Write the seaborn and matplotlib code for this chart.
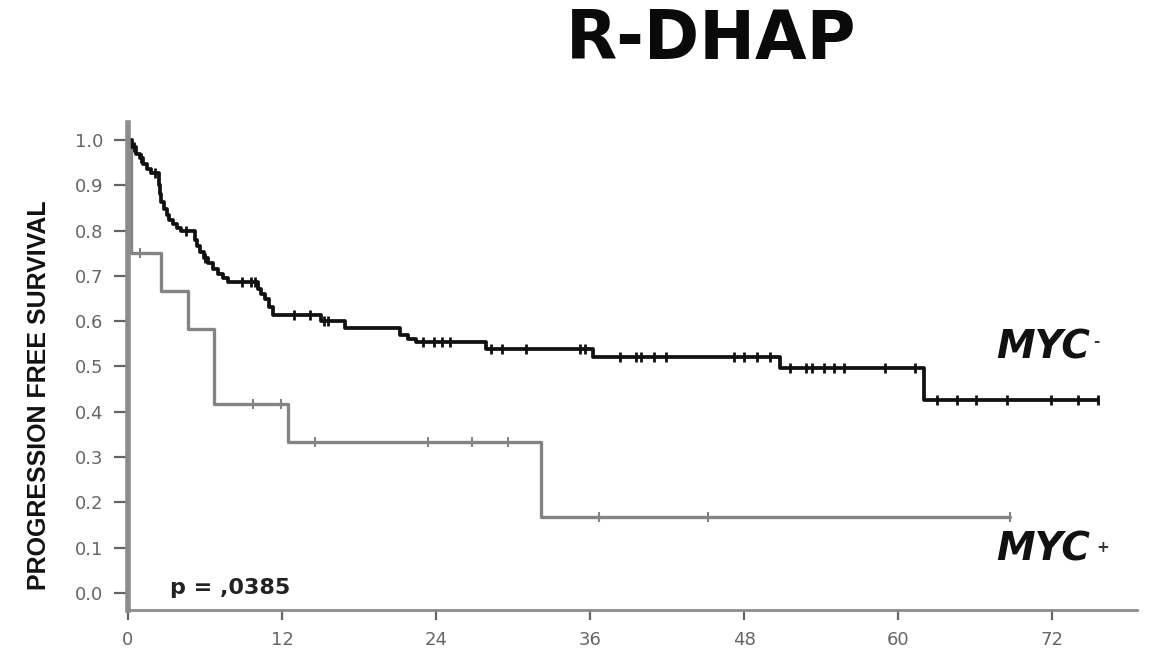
import numpy as np
import pandas as pd
import seaborn as sns
import matplotlib
matplotlib.use("Agg")
import matplotlib.pyplot as plt

# Kaplan-Meier step data (months, survival after each event)
myc_neg_times = [0, 0.3, 0.6, 0.9, 1.2, 1.5, 1.8, 2.4, 2.5, 2.6, 2.8, 3.0, 3.2, 3.5, 3.8,
                 4.1, 5.2, 5.4, 5.6, 5.9, 6.2, 6.6, 7.0, 7.4, 7.8, 10.1, 10.4, 10.7,
                 11.0, 11.3, 15.0, 16.9, 21.2, 21.8, 22.4, 27.9, 36.2, 50.8, 62.0]
myc_neg_surv = [1.0, 0.985, 0.97, 0.96, 0.948, 0.937, 0.927, 0.90, 0.88, 0.862, 0.848,
                0.835, 0.824, 0.815, 0.806, 0.798, 0.78, 0.765, 0.752, 0.74, 0.728,
                0.716, 0.705, 0.695, 0.686, 0.672, 0.66, 0.648, 0.632, 0.614, 0.600,
                0.584, 0.57, 0.56, 0.553, 0.538, 0.521, 0.497, 0.426]
myc_neg_end = 75.6
myc_neg_censored = [0.5, 1.0, 2.1, 4.5, 6.0, 8.9, 9.6, 9.9, 12.9, 14.2, 15.3, 15.6,
                    23.0, 23.8, 24.5, 25.1, 28.3, 29.1, 31.0, 35.2, 35.6,
                    38.3, 39.6, 40.0, 41.0, 41.9, 47.2, 48.0, 49.0, 50.0,
                    51.6, 52.8, 53.3, 54.2, 55.0, 55.8, 59.0, 61.3,
                    63.0, 64.6, 66.1, 68.5, 71.9, 74.0, 75.6]

myc_pos_times = [0, 0.25, 2.6, 4.7, 6.7, 12.5, 32.2]
myc_pos_surv = [1.0, 0.75, 0.667, 0.583, 0.417, 0.333, 0.167]
myc_pos_end = 68.7
myc_pos_censored = [0.9, 9.7, 11.9, 14.6, 23.4, 26.8, 29.6, 36.7, 45.2, 68.7]

x_ticks = [0, 12, 24, 36, 48, 60, 72]
y_ticks = [0.0, 0.1, 0.2, 0.3, 0.4, 0.5, 0.6, 0.7, 0.8, 0.9, 1.0]
title = "R-DHAP"
y_label = "PROGRESSION FREE SURVIVAL"
p_text = "p = ,0385"

sns.set_theme(style="ticks")
plt.rcParams["font.family"] = ["DejaVu Sans"]

fig = plt.figure(figsize=(11.51, 6.49), dpi=100)
ax = fig.add_axes([0.1112, 0.0601, 0.8766, 0.7504])


def step_frame(times, surv, end):
    x = list(times) + [end]
    y = list(surv) + [surv[-1]]
    return pd.DataFrame({"month": x, "survival": y})


def censor_frame(times, surv, cens):
    t = np.asarray(times)
    s = np.asarray(surv)
    idx = np.searchsorted(t, np.asarray(cens), side="right") - 1
    return pd.DataFrame({"month": cens, "survival": s[idx]})


neg_color = "#111111"
pos_color = "#848484"

pos_df = step_frame(myc_pos_times, myc_pos_surv, myc_pos_end)
neg_df = step_frame(myc_neg_times, myc_neg_surv, myc_neg_end)

sns.lineplot(data=pos_df, x="month", y="survival", ax=ax, color=pos_color,
             linewidth=2.4, drawstyle="steps-post", estimator=None, sort=False)
sns.scatterplot(data=censor_frame(myc_pos_times, myc_pos_surv, myc_pos_censored),
                x="month", y="survival", ax=ax, marker="|", s=60,
                linewidth=1.5, color=pos_color, zorder=3)

sns.lineplot(data=neg_df, x="month", y="survival", ax=ax, color=neg_color,
             linewidth=2.7, drawstyle="steps-post", estimator=None, sort=False)
sns.scatterplot(data=censor_frame(myc_neg_times, myc_neg_surv, myc_neg_censored),
                x="month", y="survival", ax=ax, marker="|", s=60,
                linewidth=2.0, color=neg_color, zorder=4)

ax.set_xlim(0, 78.6)
ax.set_ylim(-0.0375, 1.0375)
ax.set_xticks(x_ticks)
ax.set_xticklabels([str(v) for v in x_ticks])
ax.set_yticks(y_ticks)
ax.set_yticklabels([f"{v:.1f}" for v in y_ticks])
ax.set_xlabel("")
ax.set_ylabel("")

for side in ("top", "right"):
    ax.spines[side].set_visible(False)
ax.spines["left"].set_color("#8c8c8c")
ax.spines["left"].set_linewidth(4.0)
ax.spines["bottom"].set_color("#8c8c8c")
ax.spines["bottom"].set_linewidth(2.0)

ax.tick_params(axis="y", length=10, width=1.6, color="#666666", pad=8,
               labelsize=13, labelcolor="#666666")
ax.tick_params(axis="x", length=7, width=1.6, color="#666666", pad=8,
               labelsize=13, labelcolor="#666666")

# curve labels with superscripts
ax.text(67.6, 0.543, "MYC", fontsize=28, fontweight="bold", fontstyle="italic",
        ha="left", va="center", color="#111111")
ax.text(75.2, 0.556, "-", fontsize=11, fontweight="bold", ha="left",
        va="center", color="#333333")
ax.text(67.6, 0.095, "MYC", fontsize=28, fontweight="bold", fontstyle="italic",
        ha="left", va="center", color="#111111")
ax.text(75.4, 0.10, "+", fontsize=11, fontweight="bold", ha="left",
        va="center", color="#333333")

ax.text(3.3, 0.012, p_text, fontsize=16, fontweight="bold", ha="left",
        va="center", color="#222222")

fig.text(0.618, 0.938, title, fontsize=48, fontweight="bold", ha="center",
         va="center", color="#0a0a0a")
fig.text(0.034, 0.3906, y_label, fontsize=18, fontweight="bold", rotation=90,
         ha="center", va="center", color="#111111",
         family=["Liberation Sans", "DejaVu Sans"])

fig.savefig("out.png", dpi=100, facecolor="white")
